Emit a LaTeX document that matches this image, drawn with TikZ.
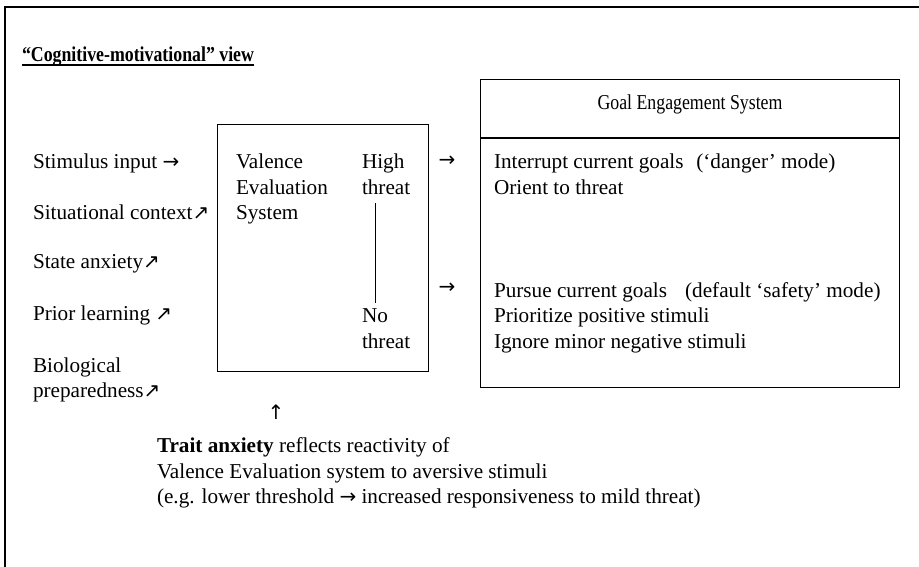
\documentclass[tikz,border=0pt]{standalone}
\usepackage{fontspec}
\usepackage{graphicx}
\setmainfont{Liberation Serif}
\newfontfamily\arrowfont{DejaVu Sans}
\newcommand{\arr}[1]{{\arrowfont\fontsize{20}{20}\selectfont #1}}
\newcommand{\narrow}[1]{\scalebox{0.84}[1]{#1}}

\begin{document}
\begin{tikzpicture}[x=1pt,y=-1pt,
  txt/.style={anchor=base west, inner sep=0pt, outer sep=0pt, font=\fontsize{21.2}{25}\selectfont},
  bold/.style={txt, font=\fontsize{21.2}{25}\selectfont\bfseries},
  glyph/.style={inner sep=0pt, outer sep=0pt},
  box/.style={draw, line width=1.3pt, inner sep=0pt, anchor=north west},
  frame/.style={line width=1.8pt}]
\useasboundingbox (0,0) rectangle (919,567);

% open frame: top and left rules
\coordinate (ftr) at (919,7);
\coordinate (ftl) at (5,7);
\coordinate (fbl) at (5,567);
\draw[frame] (ftr) -- (ftl) -- (fbl);

% heading
\node[bold] (title) at (22,62) {\narrow{“Cognitive-motivational” view}};
\draw[line width=1.2pt] ([yshift=-3pt]title.base west) -- ([yshift=-3pt]title.base east);

% inputs on the left
\node[txt] (stim) at (33,168) {Stimulus input \arr{→}};
\node[txt] (sit)  at (33,219) {Situational context\arr{↗}};
\node[txt] (state) at (33,269) {State anxiety\arr{↗}};
\node[txt] (prior) at (33,320) {Prior learning \arr{↗}};
\node[txt] (bio1) at (33,372) {Biological};
\node[txt] (bio2) at (33,397) {preparedness\arr{↗}};

% valence evaluation system
\node[box, minimum width=211pt, minimum height=247pt] (veb) at (217,124) {};
\node[txt] (v1) at (236,168) {Valence};
\node[txt] (v2) at (236,194) {Evaluation};
\node[txt] (v3) at (236,219) {System};
\node[txt] (hi1) at (362,168) {High};
\node[txt] (hi2) at (362,194) {threat};
\node[txt] (no1) at (362,322) {No};
\node[txt] (no2) at (362,348) {threat};
\coordinate (scaletop) at (375.5,203);
\coordinate (scalebot) at (375.5,303);
\draw[line width=1.1pt] (scaletop) -- (scalebot);

% outputs
\node[glyph] (arrhi) at (447,161) {\arr{→}};
\node[glyph] (arrno) at (447,288) {\arr{→}};

% goal engagement system
\node[box, minimum width=419pt, minimum height=308pt] (ges) at (480,79) {};
\coordinate (divl) at (480,138);
\coordinate (divr) at (899,138);
\draw[line width=1.3pt] (divl) -- (divr);
\node[txt, anchor=base] (gtitle) at (690,110) {\narrow{Goal Engagement System}};
\node[txt] (g1) at (494,169) {Interrupt current goals\hspace{0.6em}(‘danger’ mode)};
\node[txt] (g2) at (494,195) {Orient to threat};
\node[txt] (g3) at (494,297) {Pursue current goals\hspace{0.85em}(default ‘safety’ mode)};
\node[txt] (g4) at (494,322) {Prioritize positive stimuli};
\node[txt] (g5) at (494,348) {Ignore minor negative stimuli};

% trait anxiety note
\node[glyph] (up) at (276,412) {\arr{↑}};
\node[txt] (t1) at (157,452) {\textbf{Trait anxiety} reflects reactivity of};
\node[txt] (t2) at (157,478) {Valence Evaluation system to aversive stimuli};
\node[txt] (t3) at (157,503) {(e.g. lower threshold \arr{→} increased responsiveness to mild threat)};
\end{tikzpicture}
\end{document}
